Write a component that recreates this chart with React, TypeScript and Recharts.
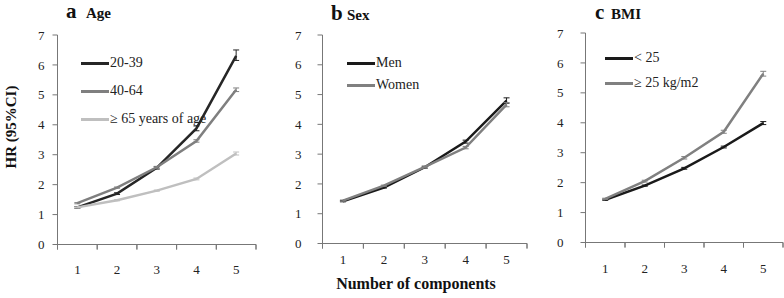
import { LineChart, Line, XAxis, YAxis, ErrorBar, Legend, ReferenceLine } from "recharts";

const FONT = "'Liberation Serif', 'Times New Roman', serif";
const AXIS = "#777777";

const components = [1, 2, 3, 4, 5];
const bandEdges = [0.5, 1.5, 2.5, 3.5, 4.5, 5.5];
const yTicks = [0, 1, 2, 3, 4, 5, 6, 7];

// a: age groups
const age2039 = [1.24, 1.7, 2.56, 3.88, 6.3];
const age2039Err = [[0.03, 0.03], [0.03, 0.03], [0.04, 0.04], [0.08, 0.08], [0.15, 0.2]];
const age4064 = [1.38, 1.9, 2.58, 3.46, 5.17];
const age4064Err = [[0.02, 0.02], [0.02, 0.02], [0.03, 0.03], [0.04, 0.04], [0.06, 0.06]];
const age65 = [1.24, 1.48, 1.8, 2.19, 3.04];
const age65Err = [[0.02, 0.02], [0.02, 0.02], [0.02, 0.02], [0.03, 0.03], [0.05, 0.05]];

// b: sex
const men = [1.42, 1.88, 2.56, 3.42, 4.8];
const menErr = [[0.02, 0.02], [0.02, 0.02], [0.03, 0.03], [0.05, 0.05], [0.09, 0.09]];
const women = [1.44, 1.94, 2.57, 3.22, 4.66];
const womenErr = [[0.02, 0.02], [0.02, 0.02], [0.03, 0.03], [0.04, 0.04], [0.07, 0.07]];

// c: BMI
const bmiLow = [1.43, 1.9, 2.48, 3.19, 3.99];
const bmiLowErr = [[0.02, 0.02], [0.02, 0.02], [0.03, 0.03], [0.03, 0.03], [0.05, 0.05]];
const bmiHigh = [1.46, 2.05, 2.83, 3.7, 5.64];
const bmiHighErr = [[0.02, 0.02], [0.03, 0.03], [0.04, 0.04], [0.05, 0.05], [0.08, 0.08]];

type Series = { key: string; name: string; color: string; values: number[]; err: number[][] };

const ageSeries: Series[] = [
  { key: "a1", name: "20-39", color: "#262626", values: age2039, err: age2039Err },
  { key: "a2", name: "40-64", color: "#7f7f7f", values: age4064, err: age4064Err },
  { key: "a3", name: "\u2265 65 years of age", color: "#bfbfbf", values: age65, err: age65Err },
];
const sexSeries: Series[] = [
  { key: "m", name: "Men", color: "#1a1a1a", values: men, err: menErr },
  { key: "w", name: "Women", color: "#808080", values: women, err: womenErr },
];
const bmiSeries: Series[] = [
  { key: "lo", name: "< 25", color: "#1a1a1a", values: bmiLow, err: bmiLowErr },
  { key: "hi", name: "\u2265 25 kg/m2", color: "#808080", values: bmiHigh, err: bmiHighErr },
];

function buildRows(series: Series[]) {
  return components.map((c, i) => {
    const row: Record<string, any> = { x: c };
    series.forEach((s) => {
      row[s.key] = s.values[i];
      row[s.key + "Err"] = s.err[i];
    });
    return row;
  });
}

function LegendBox({ series, gap }: { series: Series[]; gap: number }) {
  return (
    <div style={{ display: "flex", flexDirection: "column", gap }}>
      {series.map((s) => (
        <div key={s.key} style={{ display: "flex", alignItems: "center", height: 16 }}>
          <span style={{ width: 28, height: 3, background: s.color, display: "inline-block" }} />
          <span style={{ marginLeft: 1, fontSize: 14, fontFamily: FONT, color: "#222", whiteSpace: "nowrap" }}>
            {s.name}
          </span>
        </div>
      ))}
    </div>
  );
}

// tick marks sit between categories (Excel style); the label is drawn half a band to the right
function CategoryTick(props: any) {
  const { x, y, payload, halfBand, margin } = props;
  const label = payload.value + 0.5;
  if (label > components[components.length - 1]) return null;
  return (
    <text x={x + halfBand} y={y + margin} textAnchor="middle" fill="#222" fontSize={13} fontFamily={FONT}>
      {label}
    </text>
  );
}

type PanelProps = {
  left: number;
  width: number;
  plotLeft: number;
  plotRight: number;
  plotTop: number;
  plotBottom: number;
  yTickMargin: number;
  xTickMargin: number;
  series: Series[];
  legendLeft: number;
  legendTop: number;
  legendGap: number;
};

function Panel(p: PanelProps) {
  const height = 298;
  const yW = 40;
  const xH = 30;
  const halfBand = (p.plotRight - p.plotLeft) / (components.length * 2);
  // tick length of 5px expressed in data units
  const tickLen = (5 * 7) / (p.plotBottom - p.plotTop);
  return (
    <div style={{ position: "absolute", left: p.left, top: 0 }}>
      <LineChart
        width={p.width}
        height={height}
        data={buildRows(p.series)}
        margin={{
          top: p.plotTop,
          bottom: height - p.plotBottom - xH - 0.5,
          left: p.plotLeft - yW + 0.5,
          right: p.width - p.plotRight,
        }}
      >
        <XAxis
          type="number"
          dataKey="x"
          domain={[0.5, 5.5]}
          ticks={bandEdges}
          interval={0}
          tickSize={5}
          height={xH}
          stroke={AXIS}
          tick={<CategoryTick halfBand={halfBand} margin={p.xTickMargin} />}
        />
        <YAxis
          type="number"
          domain={[0, 7]}
          ticks={yTicks}
          interval={0}
          width={yW}
          tickSize={5}
          tickMargin={p.yTickMargin}
          stroke={AXIS}
          tick={{ fill: "#222", fontSize: 13, fontFamily: FONT }}
        />
        <ReferenceLine y={0} stroke={AXIS} ifOverflow="visible" />
        {bandEdges.map((e) => (
          <ReferenceLine
            key={e}
            segment={[{ x: e, y: 0 }, { x: e, y: -tickLen }]}
            stroke={AXIS}
            ifOverflow="visible"
          />
        ))}
        <Legend
          layout="vertical"
          align="center"
          verticalAlign="middle"
          wrapperStyle={{ left: p.legendLeft, top: p.legendTop, width: 200 }}
          content={() => <LegendBox series={p.series} gap={p.legendGap} />}
        />
        {p.series.map((s) => (
          <Line
            key={s.key}
            dataKey={s.key}
            name={s.name}
            stroke={s.color}
            strokeWidth={2.5}
            dot={false}
            isAnimationActive={false}
          >
            <ErrorBar dataKey={s.key + "Err"} direction="y" width={3} stroke={s.color} strokeWidth={1} />
          </Line>
        ))}
      </LineChart>
    </div>
  );
}

export default function App() {
  return (
    <div style={{ position: "absolute", left: 0, top: 0, width: 784, height: 298, overflow: "hidden" }}>
      <Panel
        left={0}
        width={270}
        plotLeft={57}
        plotRight={256}
        plotTop={35}
        plotBottom={244}
        yTickMargin={8}
        xTickMargin={22}
        series={ageSeries}
        legendLeft={81}
        legendTop={55}
        legendGap={12}
      />
      <Panel
        left={260}
        width={270}
        plotLeft={62}
        plotRight={267}
        plotTop={35}
        plotBottom={243}
        yTickMargin={16}
        xTickMargin={13}
        series={sexSeries}
        legendLeft={87}
        legendTop={55}
        legendGap={6}
      />
      <Panel
        left={520}
        width={264}
        plotLeft={65}
        plotRight={263}
        plotTop={33}
        plotBottom={242}
        yTickMargin={17}
        xTickMargin={23}
        series={bmiSeries}
        legendLeft={85}
        legendTop={50}
        legendGap={9}
      />
      <svg width={784} height={298} style={{ position: "absolute", left: 0, top: 0, pointerEvents: "none" }}>
        <g fontFamily={FONT} fontWeight="bold" fill="#111">
          <text x={66} y={18} fontSize={21}>a</text>
          <text x={86} y={18} fontSize={15}>Age</text>
          <text x={331} y={20} fontSize={21}>b</text>
          <text x={347} y={20} fontSize={15}>Sex</text>
          <text x={595} y={19} fontSize={21}>c</text>
          <text x={611} y={19} fontSize={15}>BMI</text>
          <text x={0} y={0} fontSize={15} textAnchor="middle" transform="translate(16,127) rotate(-90)">HR (95%CI)</text>
          <text x={416} y={289} fontSize={16} textAnchor="middle">Number of components</text>
        </g>
      </svg>
    </div>
  );
}
